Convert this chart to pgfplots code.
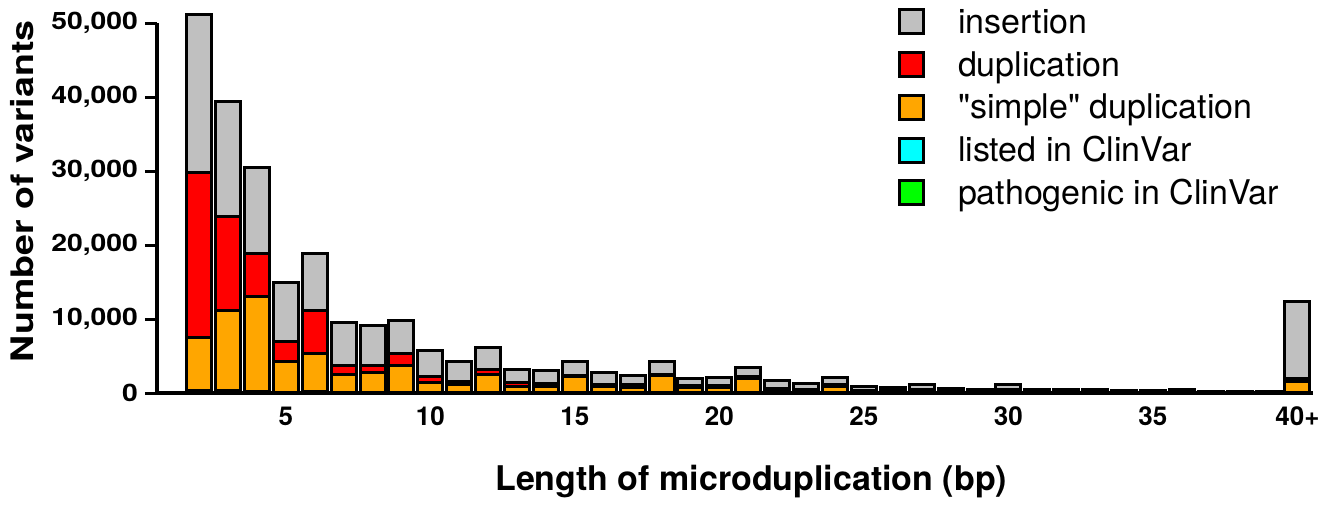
\documentclass[border=0pt]{standalone}
\usepackage{fontspec}
\setmainfont{TeX Gyre Heros}
\newfontfamily\legfont{TeX Gyre Heros}[Ligatures=TeXOff]
\usepackage{graphicx}
\usepackage{pgfplots}
\pgfplotsset{compat=1.18}
\usepackage{pgfplotstable}
\definecolor{insgray}{RGB}{192,192,192}
\definecolor{dupred}{RGB}{255,0,0}
\definecolor{simpor}{RGB}{255,166,0}
\definecolor{cvcyan}{RGB}{0,255,255}
\definecolor{pathgr}{RGB}{0,255,0}

\pgfplotstableread{
n ins dup simple listed patho
2 51100 29800 7500 350 120
3 39400 23800 11200 300 100
4 30500 18900 13000 250 80
5 14900 7000 4300 120 40
6 18900 11200 5400 150 50
7 9500 3700 2500 60 20
8 9100 3700 2800 60 20
9 9800 5400 3700 80 30
10 5700 2200 1400 40 15
11 4300 1600 1100 30 10
12 6200 3200 2500 50 20
13 3200 1400 900 25 10
14 3000 1300 900 25 10
15 4300 2400 2200 40 15
16 2800 1100 900 20 8
17 2400 1100 800 20 8
18 4300 2500 2300 40 15
19 2000 1000 800 20 8
20 2100 1000 800 20 8
21 3400 2200 2000 35 12
22 1700 600 400 15 5
23 1300 500 300 10 4
24 2100 1100 900 20 8
25 900 400 200 8 3
26 700 300 200 8 3
27 1100 500 300 10 4
28 600 300 200 6 2
29 450 250 150 6 2
30 1100 500 300 10 4
31 450 250 150 5 2
32 450 250 150 5 2
33 500 250 150 5 2
34 350 200 100 4 2
35 300 150 100 4 2
36 500 250 150 5 2
37 250 150 100 4 2
38 250 150 100 4 2
39 250 150 100 4 2
40 12400 2000 1600 100 40
}\data

\pgfplotsset{
  sqleg/.style={legend image code/.code={\draw[##1, line width=1.5pt] (0pt,-4.5pt) rectangle (12pt,7.5pt);}},
  mybar/.style={ybar, /pgf/bar shift=0pt, bar width=0.865, draw=black, line width=1.5pt, sqleg}
}

\begin{document}
\begin{tikzpicture}
\begin{axis}[
  scale only axis, width=578pt, height=185pt,
  xmin=0.54, xmax=40.54, ymin=0, ymax=50000,
  clip=false,
  axis x line*=bottom, axis y line*=left,
  axis line style={line width=2pt, black},
  xtick={5,10,15,20,25,30,35,40},
  xticklabels={5,10,15,20,25,30,35,40+},
  ytick={0,10000,20000,30000,40000,50000},
  scaled y ticks=false,
  /pgf/number format/assume math mode=true,
  /pgf/number format/1000 sep={,},
  tick align=outside,
  major tick length=6pt,
  ytick style={line width=1.5pt, black},
  xtick style={draw=none},
  xticklabel style={font=\bfseries\fontsize{13}{15}\selectfont, anchor=base, yshift=-10pt},
  yticklabel style={font=\bfseries\fontsize{12}{14}\selectfont, anchor=east},
  yticklabel={\scalebox{1.18}[1]{\pgfmathprintnumber{\tick}}},
  xlabel={Length of microduplication (bp)},
  ylabel={\scalebox{1.21}[1]{Number of variants}},
  every axis x label/.style={at={(axis description cs:0.514,0)}, anchor=base, yshift=-48.5pt, font=\bfseries\fontsize{17}{20}\selectfont},
  every axis y label/.style={at={(axis description cs:0,0.545)}, xshift=-67.5pt, anchor=center, rotate=90, font=\bfseries\fontsize{15.5}{18}\selectfont},
  legend style={at={(axis description cs:0.641,1.053)}, anchor=north west, draw=none, fill=none, inner sep=0pt, outer sep=0pt,
    font=\legfont\fontsize{17}{20}\selectfont, row sep=0pt, column sep=0pt,
    nodes={inner sep=0pt, text height=15pt, text depth=6.4pt}},
  legend cell align=left,
]
\addplot[mybar, fill=insgray] table[x=n, y=ins] {\data};
\addlegendentry{\hspace{16.5pt}insertion}
\addplot[mybar, fill=dupred] table[x=n, y=dup] {\data};
\addlegendentry{\hspace{16.5pt}duplication}
\addplot[mybar, fill=simpor] table[x=n, y=simple] {\data};
\addlegendentry{\hspace{16.5pt}"simple" duplication}
\addplot[mybar, fill=cvcyan] table[x=n, y=listed] {\data};
\addlegendentry{\hspace{16.5pt}listed in ClinVar}
\addplot[mybar, fill=pathgr] table[x=n, y=patho] {\data};
\addlegendentry{\hspace{16.5pt}pathogenic in ClinVar}
\end{axis}
\pgfresetboundingbox
\path (-78.5pt,-55.5pt) rectangle (590pt,196.5pt);
\end{tikzpicture}
\end{document}
